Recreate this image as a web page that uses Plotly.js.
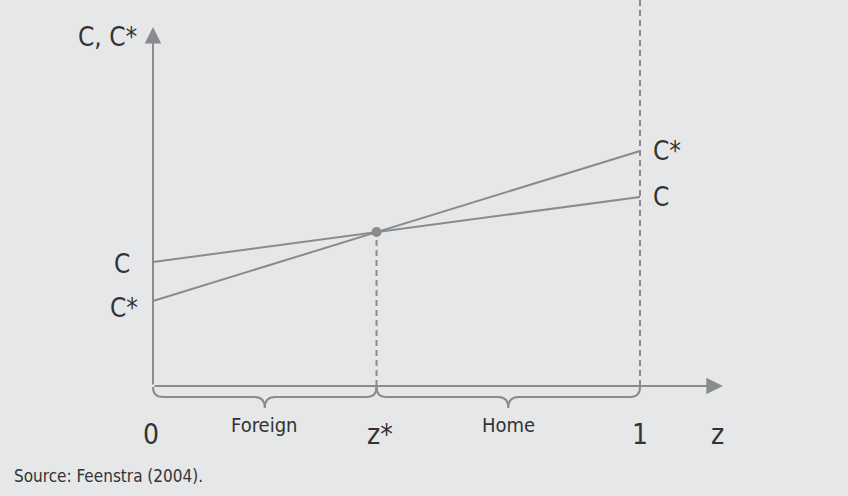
<!DOCTYPE html>
<html>
<head>
<meta charset="utf-8">
<script src="https://cdn.plot.ly/plotly-3.0.1.min.js"></script>
<style>html,body{margin:0;padding:0;background:#e6e7e8;}#chart{width:848px;height:496px;}</style>
</head>
<body>
<div id="chart"></div>
<script>
// ---- data ----
const zEnds = [0, 1];              // z from 0 to 1
const cValues = [1.24, 1.89];      // C line at z=0 and z=1
const cStarValues = [0.85, 2.35];  // C* line at z=0 and z=1
const zStar = 0.459;               // intersection z*
const cAtZStar = 1.54;             // C = C* at z*
const xTickVals = [0, zStar, 1];
const xTickText = ['0', 'z*', '1'];
const regionLabels = ['Foreign', 'Home'];
const regionStarts = [0, zStar];
const regionEnds = [zStar, 1];
const yAxisTop = 3.59;
const xAxisEnd = 1.17;
const plotTop = 3.86;

const grey = '#898b8d';
const textCol = '#333333';
const fam = 'Liberation Sans Narrow, DejaVu Sans Condensed, Arial Narrow, sans-serif';

const traces = [
  {x: zEnds, y: cValues, mode: 'lines', line: {color: grey, width: 2}, hoverinfo: 'skip'},
  {x: zEnds, y: cStarValues, mode: 'lines', line: {color: grey, width: 2}, hoverinfo: 'skip'},
  {x: [zStar, zStar], y: [0, cAtZStar], mode: 'lines', line: {color: grey, width: 2, dash: '6px,4px'}, hoverinfo: 'skip'},
  {x: [1, 1], y: [0, plotTop], mode: 'lines', line: {color: grey, width: 2, dash: '6px,4px'}, hoverinfo: 'skip'},
  {x: [zStar], y: [cAtZStar], mode: 'markers', marker: {color: grey, size: 10}, hoverinfo: 'skip'}
];

// braces
const pxX = 1 / 487, pxY = 1 / 100;
function bracePath(x0, x1) {
  const dx = 10 * pxX, y0 = -1 * pxY, yh = -11 * pxY, yt = -22 * pxY;
  const xm = (x0 + x1) / 2;
  return `M${x0},${y0} Q${x0},${yh} ${x0 + dx},${yh} L${xm - dx},${yh} Q${xm},${yh} ${xm},${yt} ` +
         `Q${xm},${yh} ${xm + dx},${yh} L${x1 - dx},${yh} Q${x1},${yh} ${x1},${y0}`;
}
const shapes = regionStarts.map((s, i) => ({
  type: 'path', xref: 'x', yref: 'y', path: bracePath(s, regionEnds[i]),
  line: {color: grey, width: 2}
}));

const annotations = [
  // axes with arrowheads
  {x: 0, y: yAxisTop, ax: 0, ay: 0, xref: 'x', yref: 'y', axref: 'x', ayref: 'y', text: '',
   showarrow: true, arrowhead: 2, arrowsize: 1.65, arrowwidth: 2, arrowcolor: grey},
  {x: xAxisEnd, y: 0, ax: 0, ay: 0, xref: 'x', yref: 'y', axref: 'x', ayref: 'y', text: '',
   showarrow: true, arrowhead: 2, arrowsize: 1.65, arrowwidth: 2, arrowcolor: grey},
  // y axis title
  {x: 0, y: yAxisTop, xref: 'x', yref: 'y', text: 'C, C*', showarrow: false, xanchor: 'right',
   xshift: -14, yshift: -10, font: {family: fam, size: 26, color: textCol}},
  // line labels right
  {x: 1, y: cStarValues[1], xref: 'x', yref: 'y', text: 'C*', showarrow: false, xanchor: 'left',
   xshift: 11, yshift: 0, font: {family: fam, size: 26, color: textCol}},
  {x: 1, y: cValues[1], xref: 'x', yref: 'y', text: 'C', showarrow: false, xanchor: 'left',
   xshift: 11, yshift: 0, font: {family: fam, size: 26, color: textCol}},
  // line labels left
  {x: 0, y: cValues[0], xref: 'x', yref: 'y', text: 'C', showarrow: false, xanchor: 'right',
   xshift: -21, yshift: -2, font: {family: fam, size: 26, color: textCol}},
  {x: 0, y: cStarValues[0], xref: 'x', yref: 'y', text: 'C*', showarrow: false, xanchor: 'right',
   xshift: -13, yshift: -7, font: {family: fam, size: 26, color: textCol}},
  // source
  {x: 12 / 848, y: 20 / 496, xref: 'paper', yref: 'paper', text: 'Source: Feenstra (2004).',
   showarrow: false, xanchor: 'left', yanchor: 'middle', font: {family: fam, size: 17, color: textCol}}
];
xTickVals.forEach((v, i) => annotations.push({
  x: v, y: 0, xref: 'x', yref: 'y', text: xTickText[i], showarrow: false, yanchor: 'middle',
  yshift: -48, xshift: xTickText[i] === 'z*' ? 3 : (xTickText[i] === '0' ? -2 : 0),
  font: {family: fam, size: 28, color: textCol}
}));
annotations.push({x: xAxisEnd - 0.01, y: 0, xref: 'x', yref: 'y', text: 'z', showarrow: false,
  yanchor: 'middle', yshift: -48, font: {family: fam, size: 28, color: textCol}});
regionLabels.forEach((t, i) => annotations.push({
  x: (regionStarts[i] + regionEnds[i]) / 2, y: 0, xref: 'x', yref: 'y', text: t, showarrow: false,
  yanchor: 'middle', yshift: -39, font: {family: fam, size: 20, color: textCol}
}));

const layout = {
  width: 848, height: 496,
  margin: {l: 0, r: 0, t: 0, b: 0},
  paper_bgcolor: '#e6e7e8', plot_bgcolor: '#e6e7e8',
  showlegend: false,
  xaxis: {range: [-153 / 487, -153 / 487 + 848 / 487], visible: false, fixedrange: true},
  yaxis: {range: [3.86 - 4.96, 3.86], visible: false, fixedrange: true},
  shapes: shapes,
  annotations: annotations
};

Plotly.newPlot('chart', traces, layout, {displayModeBar: false, staticPlot: true});
</script>
</body>
</html>
